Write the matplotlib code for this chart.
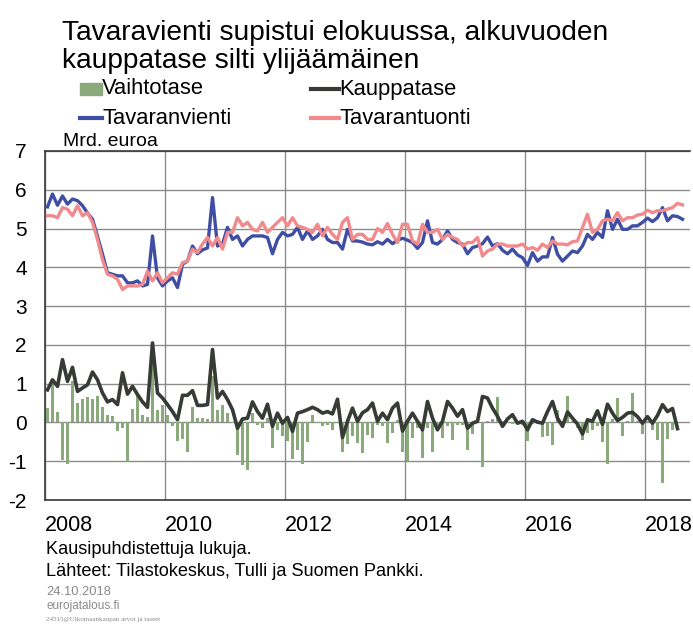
import numpy as np
import matplotlib
matplotlib.use("Agg")
import matplotlib.pyplot as plt
from matplotlib.patches import Rectangle
from matplotlib.lines import Line2D

plt.rcParams['font.family'] = ['Liberation Sans', 'DejaVu Sans']

# Monthly data, Jan 2008 onwards (bn EUR, seasonally adjusted)
exports = [5.56, 5.89, 5.60, 5.84, 5.63, 5.76, 5.72, 5.59, 5.40, 5.24, 4.80, 4.34, 3.86, 3.82, 3.78, 3.78,
           3.60, 3.60, 3.65, 3.52, 3.56, 4.81, 3.73, 3.52, 3.65, 3.73, 3.48, 4.08, 4.16, 4.55, 4.35, 4.45,
           4.50, 5.80, 4.55, 4.60, 5.03, 4.72, 4.81, 4.55, 4.72, 4.81, 4.81, 4.81, 4.77, 4.35, 4.72, 4.90,
           4.81, 4.85, 5.03, 4.72, 4.94, 4.72, 4.81, 4.98, 4.72, 4.64, 4.64, 4.47, 4.98, 4.68, 4.68, 4.65,
           4.60, 4.58, 4.66, 4.60, 4.72, 4.61, 4.70, 4.75, 4.70, 4.64, 4.49, 4.64, 5.20, 4.64, 4.60, 4.72,
           4.94, 4.72, 4.64, 4.60, 4.35, 4.51, 4.55, 4.61, 4.78, 4.55, 4.61, 4.44, 4.35, 4.47, 4.32, 4.25,
           4.05, 4.38, 4.16, 4.27, 4.27, 4.77, 4.34, 4.16, 4.29, 4.42, 4.38, 4.55, 4.85, 4.72, 4.90, 4.77,
           5.46, 4.98, 5.24, 4.98, 4.98, 5.07, 5.07, 5.16, 5.27, 5.18, 5.28, 5.54, 5.20, 5.33, 5.31, 5.24]
imports = [5.33, 5.33, 5.28, 5.54, 5.50, 5.33, 5.59, 5.33, 5.41, 5.16, 4.72, 4.20, 3.82, 3.78, 3.69, 3.43,
           3.52, 3.52, 3.52, 3.56, 3.90, 3.65, 3.86, 3.60, 3.73, 3.86, 3.82, 4.12, 4.16, 4.47, 4.38, 4.60,
           4.77, 4.55, 4.77, 4.47, 4.90, 4.90, 5.28, 5.07, 5.16, 4.98, 4.94, 5.16, 4.90, 5.03, 5.16, 5.28,
           5.07, 5.28, 5.07, 5.03, 4.98, 4.90, 5.11, 4.81, 5.03, 4.85, 4.72, 5.16, 5.28, 4.72, 4.85, 4.85,
           4.72, 4.72, 5.00, 4.90, 5.13, 4.85, 4.64, 5.11, 5.11, 4.68, 4.60, 5.11, 4.90, 4.90, 4.98, 4.72,
           4.85, 4.77, 4.72, 4.55, 4.64, 4.64, 4.77, 4.29, 4.42, 4.47, 4.60, 4.60, 4.55, 4.55, 4.55, 4.60,
           4.47, 4.51, 4.44, 4.60, 4.51, 4.68, 4.60, 4.60, 4.58, 4.66, 4.68, 5.03, 5.37, 4.90, 4.98, 5.20,
           5.24, 5.20, 5.41, 5.20, 5.28, 5.28, 5.35, 5.37, 5.47, 5.41, 5.46, 5.46, 5.50, 5.54, 5.65, 5.61]
trade_balance = [0.84, 1.10, 0.93, 1.62, 1.06, 1.42, 0.80, 0.89, 0.97, 1.30, 1.10, 0.76, 0.53, 0.59, 0.46, 1.28,
                 0.73, 0.93, 0.72, 0.53, 0.39, 2.05, 0.76, 0.63, 0.46, 0.28, 0.07, 0.70, 0.70, 0.82, 0.44, 0.44,
                 0.46, 1.88, 0.63, 0.80, 0.59, 0.33, -0.15, 0.09, 0.11, 0.53, 0.28, 0.11, 0.47, -0.10, 0.24, -0.02,
                 0.13, -0.23, 0.24, 0.28, 0.33, 0.39, 0.33, 0.24, 0.28, 0.22, 0.60, -0.39, 0.03, 0.37, 0.03, 0.25,
                 0.33, 0.50, 0.03, 0.24, 0.07, 0.37, 0.50, -0.22, 0.03, 0.24, 0.03, -0.19, 0.54, 0.11, -0.19, 0.03,
                 0.54, 0.37, 0.16, 0.33, -0.15, -0.02, 0.03, 0.67, 0.63, 0.37, 0.16, -0.10, 0.09, 0.20, -0.02, 0.03,
                 -0.19, 0.07, 0.01, -0.02, 0.28, 0.54, 0.11, -0.10, 0.27, 0.11, -0.04, -0.30, 0.07, 0.03, 0.30, -0.05,
                 0.47, 0.24, 0.05, 0.13, 0.24, 0.26, 0.15, -0.02, 0.15, -0.02, 0.18, 0.46, 0.28, 0.36, -0.16]
current_account = [0.37, 0.97, 0.28, -0.97, -1.08, 1.06, 0.50, 0.60, 0.66, 0.60, 0.67, 0.40, 0.20, 0.16, -0.23, -0.15,
                   -1.03, 0.35, 0.67, 0.20, 0.13, 1.50, 0.33, 0.46, 0.20, -0.10, -0.49, -0.42, -0.77, 0.39, 0.11, 0.11,
                   0.10, 1.20, 0.33, 0.46, 0.24, -0.02, -0.84, -1.09, -1.22, 0.24, -0.06, -0.15, 0.11, -0.66, -0.19, -0.34,
                   -0.49, -0.94, -0.70, -1.07, -0.51, 0.19, -0.02, -0.10, -0.06, -0.19, -0.02, -0.75, -0.55, -0.34, -0.54, -0.80,
                   -0.32, -0.41, -0.06, -0.10, -0.53, -0.28, 0.07, -0.75, -1.00, -0.41, -0.15, -0.92, -0.15, -0.75, -0.06, -0.41,
                   -0.10, -0.45, -0.06, -0.06, -0.72, -0.30, 0.03, -1.14, 0.03, 0.09, 0.65, 0.03, -0.02, -0.04, -0.02, -0.06,
                   -0.49, -0.05, -0.05, -0.37, -0.34, -0.58, 0.33, 0.05, 0.69, 0.04, -0.15, -0.45, -0.28, -0.20, -0.10, -0.51,
                   -1.07, 0.10, 0.64, -0.34, 0.05, 0.75, 0.05, -0.31, 0.03, -0.19, -0.46, -1.55, -0.42, -0.19]

year_labels = ['2008', '2010', '2012', '2014', '2016', '2018']
year_ticks = [0, 24, 48, 72, 96, 120]
y_ticks = [-2, -1, 0, 1, 2, 3, 4, 5, 6, 7]

title_lines = ['Tavaravienti supistui elokuussa, alkuvuoden', 'kauppatase silti ylijäämäinen']
legend_labels = ['Vaihtotase', 'Kauppatase', 'Tavaranvienti', 'Tavarantuonti']

C_BAR = '#8aaa7c'
C_BAL = '#363b35'
C_EXP = '#3f4ea2'
C_IMP = '#f08a8c'

W, H = 693, 624
fig = plt.figure(figsize=(W / 100, H / 100), dpi=100)
fig.patch.set_facecolor('white')

L, R, T, B = 45, 690, 151, 500
ax = fig.add_axes([L / W, 1 - B / H, (R - L) / W, (B - T) / H])

def xs(n):
    return np.arange(n) + 0.5

ax.bar(xs(len(current_account)), current_account, width=0.6, color=C_BAR, zorder=2, linewidth=0)
ax.plot(xs(len(trade_balance)), trade_balance, color=C_BAL, lw=2.6, zorder=3, solid_joinstyle='round')
ax.plot(xs(len(exports)), exports, color=C_EXP, lw=2.4, zorder=4, solid_joinstyle='round')
ax.plot(xs(len(imports)), imports, color=C_IMP, lw=2.4, zorder=5, solid_joinstyle='round')

ax.set_xlim(0, (R - L) / 5)
ax.set_ylim(-2, 7)
ax.set_yticks(y_ticks)
ax.set_yticklabels([str(v) for v in y_ticks], fontsize=15)
ax.set_xticks(year_ticks)
ax.set_xticklabels(year_labels, fontsize=15.5, ha='left')
ax.tick_params(axis='y', length=0, pad=13)
ax.tick_params(axis='x', length=0, pad=11)
ax.grid(True, color='#8c8c8c', lw=1.0, zorder=0)
ax.set_axisbelow(True)
for s in ['top', 'left', 'bottom']:
    ax.spines[s].set_color('#3a3a3a')
    ax.spines[s].set_linewidth(1.2)
ax.spines['right'].set_visible(False)

def fx(px):
    return px / W

def fy(py):
    return 1 - py / H

# Title
fig.text(fx(62), fy(33), title_lines[0], fontsize=20.2, va='center', ha='left')
fig.text(fx(62), fy(61), title_lines[1], fontsize=20.2, va='center', ha='left')

# Legend (manual)
leg_fs = 15.8
fig.patches.append(Rectangle((fx(80), fy(95)), fx(102) - fx(80), fy(83) - fy(95), transform=fig.transFigure,
                             color=C_BAR, figure=fig))
fig.text(fx(102), fy(89), legend_labels[0], fontsize=leg_fs, va='center', ha='left')
fig.lines.append(Line2D([fx(311), fx(339)], [fy(89), fy(89)], transform=fig.transFigure, color=C_BAL, lw=3, figure=fig))
fig.text(fx(339), fy(89), legend_labels[1], fontsize=leg_fs, va='center', ha='left')
fig.lines.append(Line2D([fx(80), fx(102)], [fy(118), fy(118)], transform=fig.transFigure, color=C_EXP, lw=3, figure=fig))
fig.text(fx(102), fy(118), legend_labels[2], fontsize=leg_fs, va='center', ha='left')
fig.lines.append(Line2D([fx(311), fx(339)], [fy(118), fy(118)], transform=fig.transFigure, color=C_IMP, lw=3, figure=fig))
fig.text(fx(339), fy(118), legend_labels[3], fontsize=leg_fs, va='center', ha='left')

fig.text(fx(63), fy(141), 'Mrd. euroa', fontsize=14, va='center', ha='left')

# Footnotes
fig.text(fx(46), fy(549), 'Kausipuhdistettuja lukuja.', fontsize=13.1, va='center', ha='left')
fig.text(fx(46), fy(572), 'Lähteet: Tilastokeskus, Tulli ja Suomen Pankki.', fontsize=13.1, va='center', ha='left')
fig.text(fx(46), fy(592), '24.10.2018', fontsize=9.3, va='center', ha='left', color='#8a8a8a')
fig.text(fx(46), fy(606), 'eurojatalous.fi', fontsize=8.5, va='center', ha='left', color='#8a8a8a')
fig.text(fx(46), fy(619), '24515@Ulkomaankaupan arvot ja taseet', fontsize=5, va='center', ha='left',
         color='#8a8a8a', family=['Liberation Serif', 'DejaVu Serif'])

fig.savefig('out.png', dpi=100)
